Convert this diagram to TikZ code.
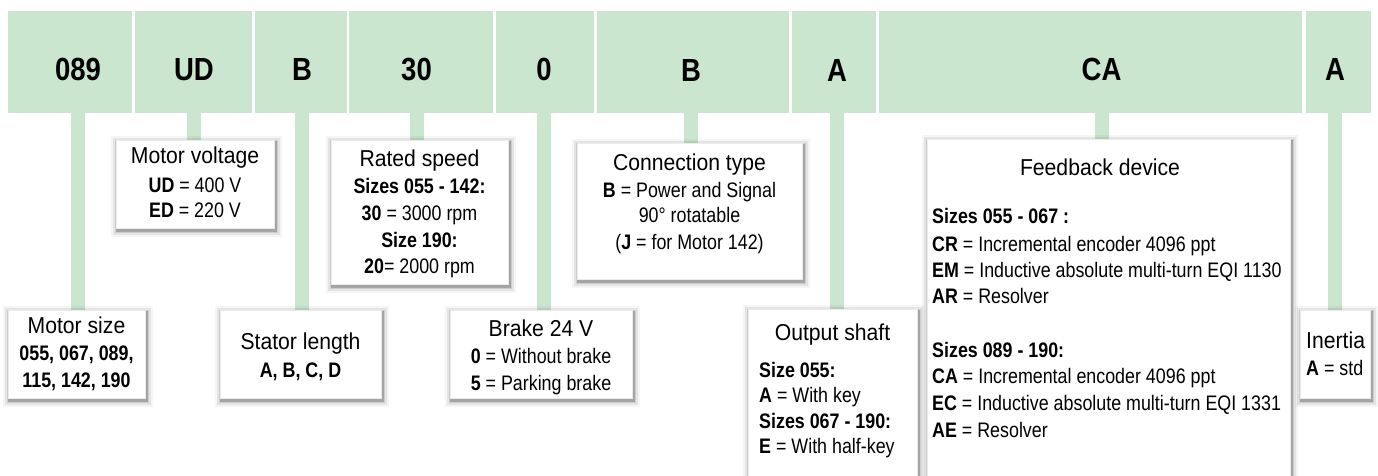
\documentclass[tikz,border=0pt]{standalone}
\usepackage{fontspec}
\setmainfont{Liberation Sans}
\newfontfamily\hdfont[FakeStretch=0.86]{Liberation Sans}
\newfontfamily\ttlfont[FakeStretch=0.92]{Liberation Sans}
\newfontfamily\bdfont[FakeStretch=0.85]{Liberation Sans}
\definecolor{hdgreen}{RGB}{203,230,206}
\pgfdeclarelayer{bg}
\pgfsetlayers{bg,main}
\tikzset{
  cell/.style={fill=hdgreen, draw=none, inner sep=0pt, anchor=north west},
  code/.style={font=\hdfont\bfseries\fontsize{32}{36}\selectfont, anchor=base, inner sep=0pt},
  conn/.style={draw=hdgreen, line width=14pt},
  infobox/.style={fill=white, draw=black!8, line width=0.4pt, inner sep=0pt, anchor=north west,
    preaction={draw=black, opacity=0.04, line width=13pt, transform canvas={shift={(1.5,2.5)}}},
    preaction={draw=black, opacity=0.07, line width=9pt, transform canvas={shift={(1.5,2.5)}}},
    preaction={draw=black, opacity=0.10, line width=5pt, transform canvas={shift={(1.5,2.5)}}},
    preaction={draw=black, opacity=0.20, line width=2.5pt, transform canvas={shift={(1.5,2.5)}}}},
  ttl/.style={font=\ttlfont\fontsize{23}{27}\selectfont, anchor=base, inner sep=0pt},
  bdy/.style={font=\bdfont\fontsize{21}{25}\selectfont, anchor=base, inner sep=0pt},
  bdyl/.style={bdy, anchor=base west},
  ttll/.style={ttl, anchor=base west},
}
\begin{document}
\begin{tikzpicture}[x=1pt, y=-1pt]
\useasboundingbox (0,0) rectangle (1378,475);
% header cells
\node[cell, minimum width=124pt, minimum height=102pt] (h1) at (8,11) {};
\node[cell, minimum width=117pt, minimum height=102pt] (h2) at (135,11) {};
\node[cell, minimum width=92pt,  minimum height=102pt] (h3) at (255,11) {};
\node[cell, minimum width=144pt, minimum height=102pt] (h4) at (349,11) {};
\node[cell, minimum width=98pt,  minimum height=102pt] (h5) at (496,11) {};
\node[cell, minimum width=192pt, minimum height=102pt] (h6) at (597,11) {};
\node[cell, minimum width=84pt,  minimum height=102pt] (h7) at (792,11) {};
\node[cell, minimum width=423pt, minimum height=102pt] (h8) at (879,11) {};
\node[cell, minimum width=65pt,  minimum height=102pt] (h9) at (1306,11) {};
% header codes
\node[code] (t1) at (78,80) {089};
\node[code] (t2) at (194,80) {UD};
\node[code] (t3) at (302,80) {B};
\node[code] (t4) at (416.5,80) {30};
\node[code] (t5) at (544,80) {0};
\node[code] (t6) at (691,81) {B};
\node[code] (t7) at (837,81) {A};
\node[code] (t8) at (1101.5,80) {CA};
\node[code] (t9) at (1335,80) {A};
% boxes
\node[infobox, minimum width=137pt, minimum height=88pt] (ms) at (8,310) {};
\node[infobox, minimum width=158pt, minimum height=88pt] (mv) at (116,140) {};
\node[infobox, minimum width=161pt, minimum height=88pt] (sl) at (220,310) {};
\node[infobox, minimum width=177pt, minimum height=144pt] (rs) at (331,140) {};
\node[infobox, minimum width=182pt, minimum height=88pt] (bk) at (450,310) {};
\node[infobox, minimum width=225pt, minimum height=136pt] (ct) at (577,143) {};
\node[infobox, minimum width=169pt, minimum height=185pt] (os) at (748,309) {};
\node[infobox, minimum width=363pt, minimum height=355pt] (fb) at (927,139) {};
\node[infobox, minimum width=70pt,  minimum height=88pt] (in) at (1300,310) {};
% connectors
\begin{pgfonlayer}{bg}
\draw[conn] (t1 |- h1.south) -- (t1 |- ms.north);
\draw[conn] (t2 |- h2.south) -- (t2 |- mv.north);
\draw[conn] (t3 |- h3.south) -- (t3 |- sl.north);
\draw[conn] (t4 |- h4.south) -- (t4 |- rs.north);
\draw[conn] (t5 |- h5.south) -- (t5 |- bk.north);
\draw[conn] (t6 |- h6.south) -- (t6 |- ct.north);
\draw[conn] (t7 |- h7.south) -- (t7 |- os.north);
\draw[conn] (t8 |- h8.south) -- (t8 |- fb.north);
\draw[conn] (t9 |- h9.south) -- (t9 |- in.north);
\end{pgfonlayer}
% motor size
\node[ttl] (ms1) at (76.5,333) {Motor size};
\node[bdy] (ms2) at (76.5,360) {\bfseries 055, 067, 089,};
\node[bdy] (ms3) at (76.5,387) {\bfseries 115, 142, 190};
% motor voltage
\node[ttl] (mv1) at (195,163) {Motor voltage};
\node[bdy] (mv2) at (195,192) {\textbf{UD} = 400 V};
\node[bdy] (mv3) at (195,217) {\textbf{ED} = 220 V};
% stator length
\node[ttl] (sl1) at (300.5,349) {Stator length};
\node[bdy] (sl2) at (300.5,377) {\bfseries A, B, C, D};
% rated speed
\node[ttl] (rs1) at (419.5,166) {Rated speed};
\node[bdy] (rs2) at (419.5,193) {\bfseries Sizes 055 - 142:};
\node[bdy] (rs3) at (419.5,220) {\textbf{30} = 3000 rpm};
\node[bdy] (rs4) at (419.5,247) {\bfseries Size 190:};
\node[bdy] (rs5) at (419.5,273) {\textbf{20}= 2000 rpm};
% brake
\node[ttl] (bk1) at (541,336) {Brake 24 V};
\node[bdy] (bk2) at (541,363) {\textbf{0} = Without brake};
\node[bdy] (bk3) at (541,390) {\textbf{5} = Parking brake};
% connection type
\node[ttl] (ct1) at (689.5,170) {Connection type};
\node[bdy] (ct2) at (689.5,197) {\textbf{B} = Power and Signal};
\node[bdy] (ct3) at (689.5,222) {90° rotatable};
\node[bdy] (ct4) at (689.5,249) {(\textbf{J} = for Motor 142)};
% output shaft
\node[ttl] (os1) at (832.5,340) {Output shaft};
\node[bdyl] (os2) at (759,377) {\bfseries Size 055:};
\node[bdyl] (os3) at (759,402) {\textbf{A} = With key};
\node[bdyl] (os4) at (759,428) {\bfseries Sizes 067 - 190:};
\node[bdyl] (os5) at (759,453) {\textbf{E} = With half-key};
% feedback device
\node[ttl] (fb1) at (1100,175) {Feedback device};
\node[bdyl] (fb2) at (932,223) {\bfseries Sizes 055 - 067 :};
\node[bdyl] (fb3) at (932,251) {\textbf{CR} = Incremental encoder 4096 ppt};
\node[bdyl] (fb4) at (932,277) {\textbf{EM} = Inductive absolute multi-turn EQI 1130};
\node[bdyl] (fb5) at (932,303) {\textbf{AR} = Resolver};
\node[bdyl] (fb6) at (932,357) {\bfseries Sizes 089 - 190:};
\node[bdyl] (fb7) at (932,383) {\textbf{CA} = Incremental encoder 4096 ppt};
\node[bdyl] (fb8) at (932,410) {\textbf{EC} = Inductive absolute multi-turn EQI 1331};
\node[bdyl] (fb9) at (932,437) {\textbf{AE} = Resolver};
% inertia
\node[ttll] (in1) at (1306,348) {Inertia};
\node[bdyl] (in2) at (1306,375) {\textbf{A} = std};
\end{tikzpicture}
\end{document}
